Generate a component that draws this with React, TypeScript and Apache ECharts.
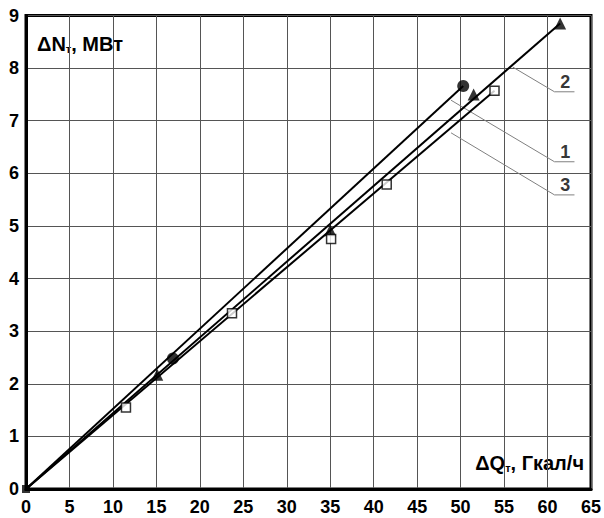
import React, { useEffect, useRef } from "react";
import * as echarts from "echarts";

const xTicks = [0, 5, 10, 15, 20, 25, 30, 35, 40, 45, 50, 55, 60, 65];
const yTicks = [0, 1, 2, 3, 4, 5, 6, 7, 8, 9];

// Curve 1 (circles)
const circlePts = [[16.9, 2.48], [50.3, 7.66]];
const line1 = [[0, 0], [50.3, 7.66]];
// Curve 2 (triangles)
const trianglePts = [[15.1, 2.17], [35.0, 4.92], [51.5, 7.5], [61.45, 8.85]];
const line2 = [[0, 0], [61.45, 8.85]];
// Curve 3 (squares)
const squarePts = [[11.5, 1.55], [23.7, 3.34], [35.1, 4.75], [41.5, 5.79], [53.9, 7.57]];
const line3 = [[0, 0], [53.9, 7.57]];
const originPt = [[0, 0]];

// Leader lines to curve labels
const leader2 = [[56.0, 8.02], [60.8, 7.55], [63.1, 7.55]];
const leader1 = [[48.9, 7.39], [60.8, 6.22], [63.1, 6.22]];
const leader3 = [[48.9, 6.77], [60.8, 5.59], [63.1, 5.59]];
const labelPts = [
  { name: "2", value: [62.05, 7.55] },
  { name: "1", value: [62.05, 6.22] },
  { name: "3", value: [62.05, 5.59] },
];

const FONT = "'Liberation Sans', Arial, sans-serif";

export default function App() {
  const ref = useRef<HTMLDivElement>(null);
  useEffect(() => {
    const chart = echarts.init(ref.current!, null, { renderer: "svg" });
    const lineStyle = { color: "#000", width: 2 };
    const leaderStyle = { color: "#808080", width: 1 };
    const richName = {
      a: { fontFamily: FONT, fontWeight: "bold", fontSize: 20, fill: "#000", verticalAlign: "bottom" },
      s: { fontFamily: FONT, fontWeight: "bold", fontSize: 11, fill: "#000", verticalAlign: "bottom" },
    };
    chart.setOption({
      animation: false,
      backgroundColor: "#fff",
      grid: {
        left: 26,
        right: 12.5,
        top: 15.5,
        bottom: 29,
        show: true,
        borderColor: "#000",
        borderWidth: 3,
        backgroundColor: "transparent",
      },
      xAxis: {
        type: "value",
        min: xTicks[0],
        max: xTicks[xTicks.length - 1],
        interval: 5,
        axisLine: { show: true, lineStyle: { color: "#000", width: 3 } },
        axisTick: { show: false },
        axisLabel: {
          color: "#000",
          fontFamily: FONT,
          fontWeight: "bold",
          fontSize: 18,
          margin: 9,
        },
        splitLine: { show: true, lineStyle: { color: "#555", width: 1 } },
      },
      yAxis: {
        type: "value",
        min: yTicks[0],
        max: yTicks[yTicks.length - 1],
        interval: 1,
        axisLine: { show: true, lineStyle: { color: "#000", width: 3 } },
        axisTick: { show: false },
        axisLabel: {
          color: "#000",
          fontFamily: FONT,
          fontWeight: "bold",
          fontSize: 18,
          margin: 7,
        },
        splitLine: { show: true, lineStyle: { color: "#555", width: 1 } },
      },
      series: [
        { type: "line", data: leader1, symbol: "none", lineStyle: leaderStyle, z: 1 },
        { type: "line", data: leader2, symbol: "none", lineStyle: leaderStyle, z: 1 },
        { type: "line", data: leader3, symbol: "none", lineStyle: leaderStyle, z: 1 },
        { type: "line", data: line1, symbol: "none", lineStyle, z: 2 },
        { type: "line", data: line2, symbol: "none", lineStyle, z: 2 },
        { type: "line", data: line3, symbol: "none", lineStyle, z: 2 },
        {
          type: "scatter",
          data: circlePts,
          symbol: "circle",
          symbolSize: 12,
          itemStyle: { color: "#000" },
          z: 3,
        },
        {
          type: "scatter",
          data: trianglePts,
          symbol: "triangle",
          symbolSize: 12,
          itemStyle: { color: "#000" },
          z: 3,
        },
        {
          type: "scatter",
          data: squarePts,
          symbol: "rect",
          symbolSize: 9,
          itemStyle: { color: "#fff", borderColor: "#000", borderWidth: 1.5 },
          z: 3,
        },
        {
          type: "scatter",
          data: originPt,
          symbol: "rect",
          symbolSize: 8,
          itemStyle: { color: "#000" },
          z: 4,
        },
        {
          type: "scatter",
          data: labelPts,
          symbolSize: 0,
          label: {
            show: true,
            position: "top",
            distance: 1,
            formatter: (p: any) => p.name,
            color: "#000",
            fontFamily: FONT,
            fontWeight: "bold",
            fontSize: 18,
          },
          z: 4,
        },
      ],
      graphic: [
        {
          type: "text",
          left: 37,
          top: 34,
          style: { text: "{a|ΔN}{s|т}{a|, МВт}", rich: richName },
        },
        {
          type: "text",
          right: 20,
          top: 453,
          style: { text: "{a|ΔQ}{s|т}{a|, Гкал/ч}", rich: richName },
        },
      ],
    });
    return () => chart.dispose();
  }, []);
  return <div ref={ref} style={{ width: 604, height: 518, position: "absolute", left: 0, top: 0 }} />;
}
